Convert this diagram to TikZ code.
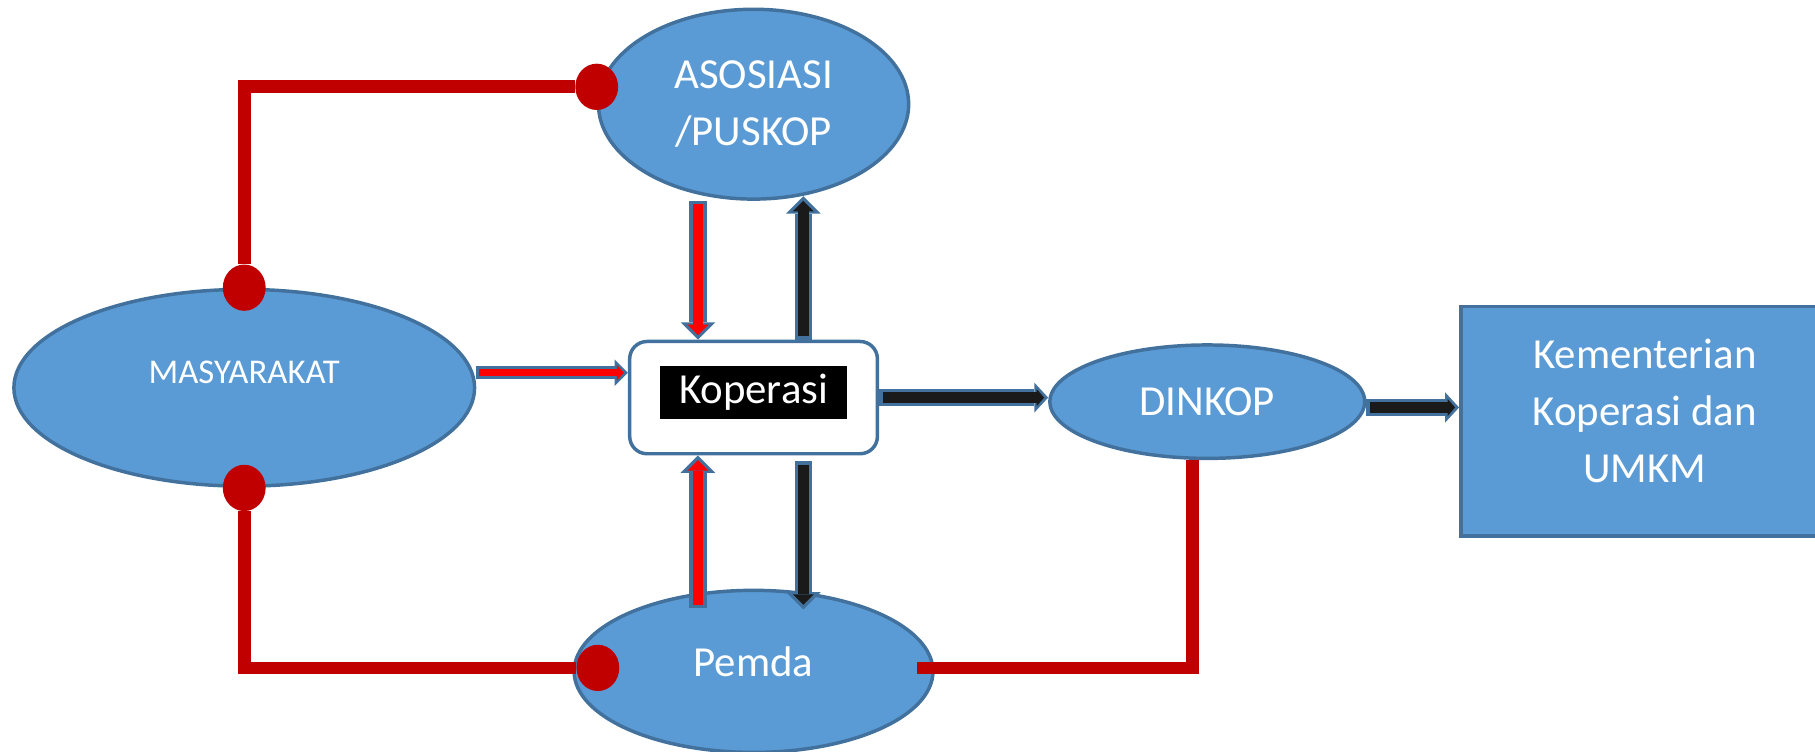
\documentclass[tikz,border=0pt]{standalone}
\usepackage{fontspec}
\setmainfont{Carlito}
\usetikzlibrary{shapes.geometric,arrows.meta}
\definecolor{bubbleblue}{HTML}{5B9BD5}
\definecolor{edgeblue}{HTML}{41719C}
\definecolor{linkred}{HTML}{C00000}
\definecolor{arrowred}{HTML}{FF0000}
\definecolor{arrowblack}{HTML}{1A1A1A}

\begin{document}
\begin{tikzpicture}[x=1pt, y=-1pt,
    labeltext/.style={text=white, inner sep=0pt, align=center, font=\fontsize{37}{49}\selectfont},
    bubble/.style={ellipse, draw=edgeblue, line width=3pt, fill=bubbleblue, labeltext},
    panel/.style={rectangle, draw=edgeblue, line width=3pt, fill=bubbleblue, labeltext},
    kopbox/.style={rectangle, rounded corners=15pt, draw=edgeblue, line width=3pt, fill=white},
    dot/.style={ellipse, fill=linkred, minimum width=37pt, minimum height=40pt, inner sep=0pt},
    link/.style={draw=linkred, line width=11pt},
    fatarrow/.style={line width=9pt, shorten <=3pt, shorten >=4pt,
      -{Triangle[length=9pt,width=18pt,line width=0pt]},
      preaction={draw=edgeblue, line width=15pt, shorten <=0pt, shorten >=0pt,
        -{Triangle[length=15pt,width=30pt,line width=0pt]}}},
    flatarrow/.style={line width=9pt, shorten <=3pt, shorten >=3.5pt,
      -{Triangle[length=6.5pt,width=15pt,line width=0pt]},
      preaction={draw=edgeblue, line width=15pt, shorten <=0pt, shorten >=0pt,
        -{Triangle[length=12pt,width=26pt,line width=0pt]}}},
    thinarrow/.style={line width=6pt, shorten <=2.5pt, shorten >=3.5pt,
      -{Triangle[length=6pt,width=13pt,line width=0pt]},
      preaction={draw=edgeblue, line width=11pt, shorten <=0pt, shorten >=0pt,
        -{Triangle[length=11.5pt,width=23pt,line width=0pt]}}}]
    \useasboundingbox (0,0) rectangle (1568,649);
    \clip (0,0) rectangle (1568,649);

    %---------------------------------------------------------------%
    \node[bubble, minimum width=398pt, minimum height=170pt] (masy) at (211,335) {};
    \node[labeltext, font=\fontsize{30}{36}\selectfont] (masytext) at ([yshift=13pt]masy.center) {MASYARAKAT};
    \node[bubble, minimum width=268pt, minimum height=164pt] (aso) at (651,90) {ASOSIASI\\/PUSKOP};
    \node[bubble, minimum width=310pt, minimum height=140pt] (pem) at (651,580) {};
    \node[labeltext] (pemtext) at ([yshift=8pt]pem.center) {Pemda};
    \node[bubble, minimum width=272pt, minimum height=98pt] (dink) at (1043,347) {DINKOP};
    \node[panel, minimum width=318pt, minimum height=198pt] (kem) at (1421,364) {};
    \node[labeltext] (kemtext) at ([yshift=9pt]kem.center) {Kementerian\\Koperasi dan\\UMKM};
    \node[kopbox, minimum width=214pt, minimum height=97pt] (kop) at (651,343.5) {};
    \node[fill=black, text=white, minimum width=161pt, minimum height=46pt, inner sep=0pt,
      font=\fontsize{37}{49}\selectfont] (koplabel) at ([yshift=4.5pt]kop.center) {Koperasi};

    %---------------------------------------------------------------%
    \draw[fatarrow, draw=arrowred] ([xshift=-48pt]aso.south) -- ([xshift=-48pt]kop.north);
    \draw[fatarrow, draw=arrowblack] ([xshift=43pt]kop.north) -- ([xshift=43pt,yshift=4pt]aso.south);
    \draw[fatarrow, draw=arrowred] ([xshift=-48pt,yshift=-17pt]pem.north) -- ([xshift=-48pt]kop.south);
    \draw[fatarrow, draw=arrowblack] ([xshift=43pt,yshift=-5pt]kop.south) -- ([xshift=43pt,yshift=-18pt]pem.north);
    \coordinate (kopin) at ([yshift=21.5pt]kop.west);
    \draw[thinarrow, draw=arrowred] (masy.east |- kopin) -- (kopin);
    \draw[flatarrow, draw=arrowblack] (kop.east) -- (kop.east -| dink.west);
    \coordinate (dinkout) at ([yshift=-5pt]dink.east);
    \draw[flatarrow, draw=arrowblack] (dinkout) -- (dinkout -| kem.west);

    %---------------------------------------------------------------%
    \node[dot] (dmasyn) at (masy.north) {};
    \node[dot] (daso) at ([yshift=15pt]aso.west) {};
    \node[dot] (dmasys) at (masy.south) {};
    \node[dot] (dpem) at ([xshift=22pt,yshift=3pt]pem.west) {};
    \draw[link] (dmasyn) |- (daso);
    \draw[link] (dmasys) |- (dpem);
    \draw[link] ([xshift=-15pt,yshift=3pt]pem.east) -| ([xshift=-13pt]dink.south);
    %---------------------------------------------------------------%
\end{tikzpicture}
\end{document}
